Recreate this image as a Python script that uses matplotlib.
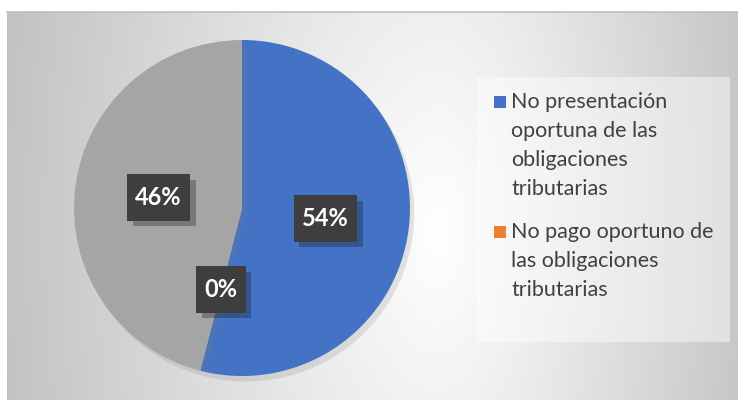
import numpy as np
import matplotlib
matplotlib.use('Agg')
import matplotlib.pyplot as plt
import matplotlib.patheffects as pe
from matplotlib.patches import Rectangle
from matplotlib.path import Path

plt.rcParams['font.family'] = ['Lato', 'DejaVu Sans']

# data
labels = ['No presentación\noportuna de las\nobligaciones\ntributarias',
          'No pago oportuno de\nlas obligaciones\ntributarias',
          'Otros']
values = [54, 0, 46]
colors = ['#4472C4', '#ED7D31', '#A5A5A5']
legend_count = 2

W, H = 738, 400
fig = plt.figure(figsize=(W / 100, H / 100), dpi=100)
fig.patch.set_facecolor('white')

# chart area background: soft radial gradient, light in the middle
bg = fig.add_axes([7 / W, 0, (W - 7) / W, (H - 12) / H])
xx, yy = np.meshgrid(np.arange(7, W), np.arange(12, H))
rx = np.where(xx < 440, 430.0, 320.0)
d = np.sqrt(((xx - 440) / rx) ** 2 + ((yy - 230) / 800.0) ** 2)
shade = np.clip(1 - 0.23 * d, 0, 1)
bg.imshow(np.dstack([shade] * 3), aspect='auto', interpolation='bilinear')
bg.set_axis_off()
fig.add_artist(plt.Line2D([7 / W, 1], [1 - 12 / H] * 2, color='#bfbfbf', lw=1.2))


def label_box(x0, y0, width, height, mutation_size):
    # wider vertical padding than horizontal
    px, py = 0.35 * mutation_size, 0.5 * mutation_size
    x0, y0, x1, y1 = x0 - px, y0 - py, x0 + width + px, y0 + height + py
    return Path([(x0, y0), (x1, y0), (x1, y1), (x0, y1), (x0, y0)],
                [Path.MOVETO, Path.LINETO, Path.LINETO, Path.LINETO, Path.CLOSEPOLY])


# pie
ax = fig.add_axes([(242 - 168) / W, (H - 208 - 168) / H, 336 / W, 336 / H])
wedges, texts, autotexts = ax.pie(values, colors=colors, startangle=90,
                                  counterclock=False, autopct='%.0f%%',
                                  pctdistance=0.5, radius=1,
                                  wedgeprops=dict(linewidth=0))
ax.set_xlim(-1, 1)
ax.set_ylim(-1, 1)
ax.set_aspect('auto')
for w in wedges:
    w.set_path_effects([pe.SimplePatchShadow(offset=(3, -4), shadow_rgbFace='#808080', alpha=0.2),
                        pe.Normal()])

for t in autotexts:
    t.set_color('white')
    t.set_fontweight('bold')
    t.set_fontsize(17)
    t.set_bbox(dict(boxstyle=label_box, facecolor='#3e3e3e', edgecolor='none'))
    t.get_bbox_patch().set_path_effects([pe.SimplePatchShadow(offset=(4, -4), alpha=0.3),
                                         pe.Normal()])

# legend
fig.add_artist(Rectangle((477 / W, 1 - 342 / H), (730 - 477) / W, (342 - 77) / H,
                         transform=fig.transFigure, facecolor='white', alpha=0.45,
                         edgecolor='none'))
line_h = 29
base = 108
for i in range(legend_count):
    fig.add_artist(Rectangle((494 / W, 1 - base / H), 12 / W, 12 / H,
                             transform=fig.transFigure, facecolor=colors[i], edgecolor='none'))
    lines = labels[i].split('\n')
    for j, ln in enumerate(lines):
        fig.text(511 / W, 1 - (base + j * line_h) / H, ln, fontsize=15.5,
                 color='#404040', va='baseline', ha='left')
    base += len(lines) * line_h + 14

fig.savefig('out.png', dpi=100)
